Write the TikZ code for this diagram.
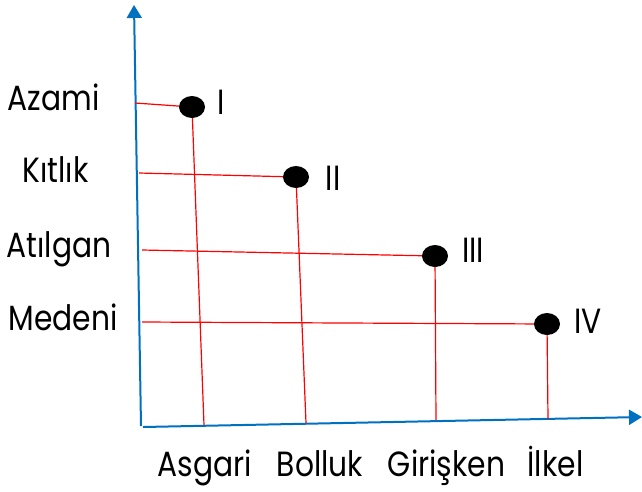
\documentclass[tikz,border=0pt]{standalone}
\usepackage{fontspec}
\setmainfont{Poppins}[FakeStretch=0.85]
\usetikzlibrary{arrows.meta,shapes.geometric}
\definecolor{axisblue}{RGB}{0,112,192}
\tikzset{
  axis/.style={draw=axisblue, line width=2pt, -{Triangle[length=13pt,width=15pt]}},
  guide/.style={draw=red, line width=1.2pt},
  point/.style={ellipse, fill=black, minimum width=26pt, minimum height=22pt, inner sep=0pt},
  lbl/.style={font=\fontsize{35}{38}\selectfont, inner sep=0pt, anchor=base},
}
\begin{document}
\begin{tikzpicture}[x=1pt,y=-1pt]
  \useasboundingbox (0,0) rectangle (642,491);
  % axes
  \coordinate (org) at (141,426);
  \coordinate (ytop) at (134,5);
  \coordinate (xleft) at (143,427);
  \coordinate (xend) at (642,417);
  \draw[axis] (org) -- (ytop);
  \draw[axis] (xleft) -- (xend);
  % points
  \node[point] (dI) at (192,107) {};
  \node[point] (dII) at (296,177) {};
  \node[point] (dIII) at (435,256) {};
  \node[point] (dIV) at (547,324) {};
  % feet on the axes
  \coordinate (yI) at (135,103);
  \coordinate (yII) at (139,173);
  \coordinate (yIII) at (142,250);
  \coordinate (yIV) at (142,322);
  \coordinate (xI) at (204,425);
  \coordinate (xII) at (306,423);
  \coordinate (xIII) at (436,420);
  \coordinate (xIV) at (548,419);
  \foreach \p in {I,II,III,IV} {
    \draw[guide] (y\p) -- (d\p);
    \draw[guide] (d\p) -- (x\p);
  }
  % left labels
  \node[lbl] (azami) at (53.5,110) {Azami};
  \node[lbl] (kitlik) at (55.5,182) {Kıtlık};
  \node[lbl] (atilgan) at (59,257) {Atılgan};
  \node[lbl] (medeni) at (63,330) {Medeni};
  % bottom labels
  \node[lbl] (asgari) at (205,476) {Asgari};
  \node[lbl] (bolluk) at (320,476) {Bolluk};
  \node[lbl] (giriskan) at (446.5,476) {Girişken};
  \node[lbl] (ilkel) at (555.5,476) {İlkel};
  % numerals
  \node[lbl] (nI) at (221,114) {I};
  \node[lbl] (nII) at (333,190) {II};
  \node[lbl] (nIII) at (473,262) {III};
  \node[lbl] (nIV) at (588,333) {IV};
\end{tikzpicture}
\end{document}
